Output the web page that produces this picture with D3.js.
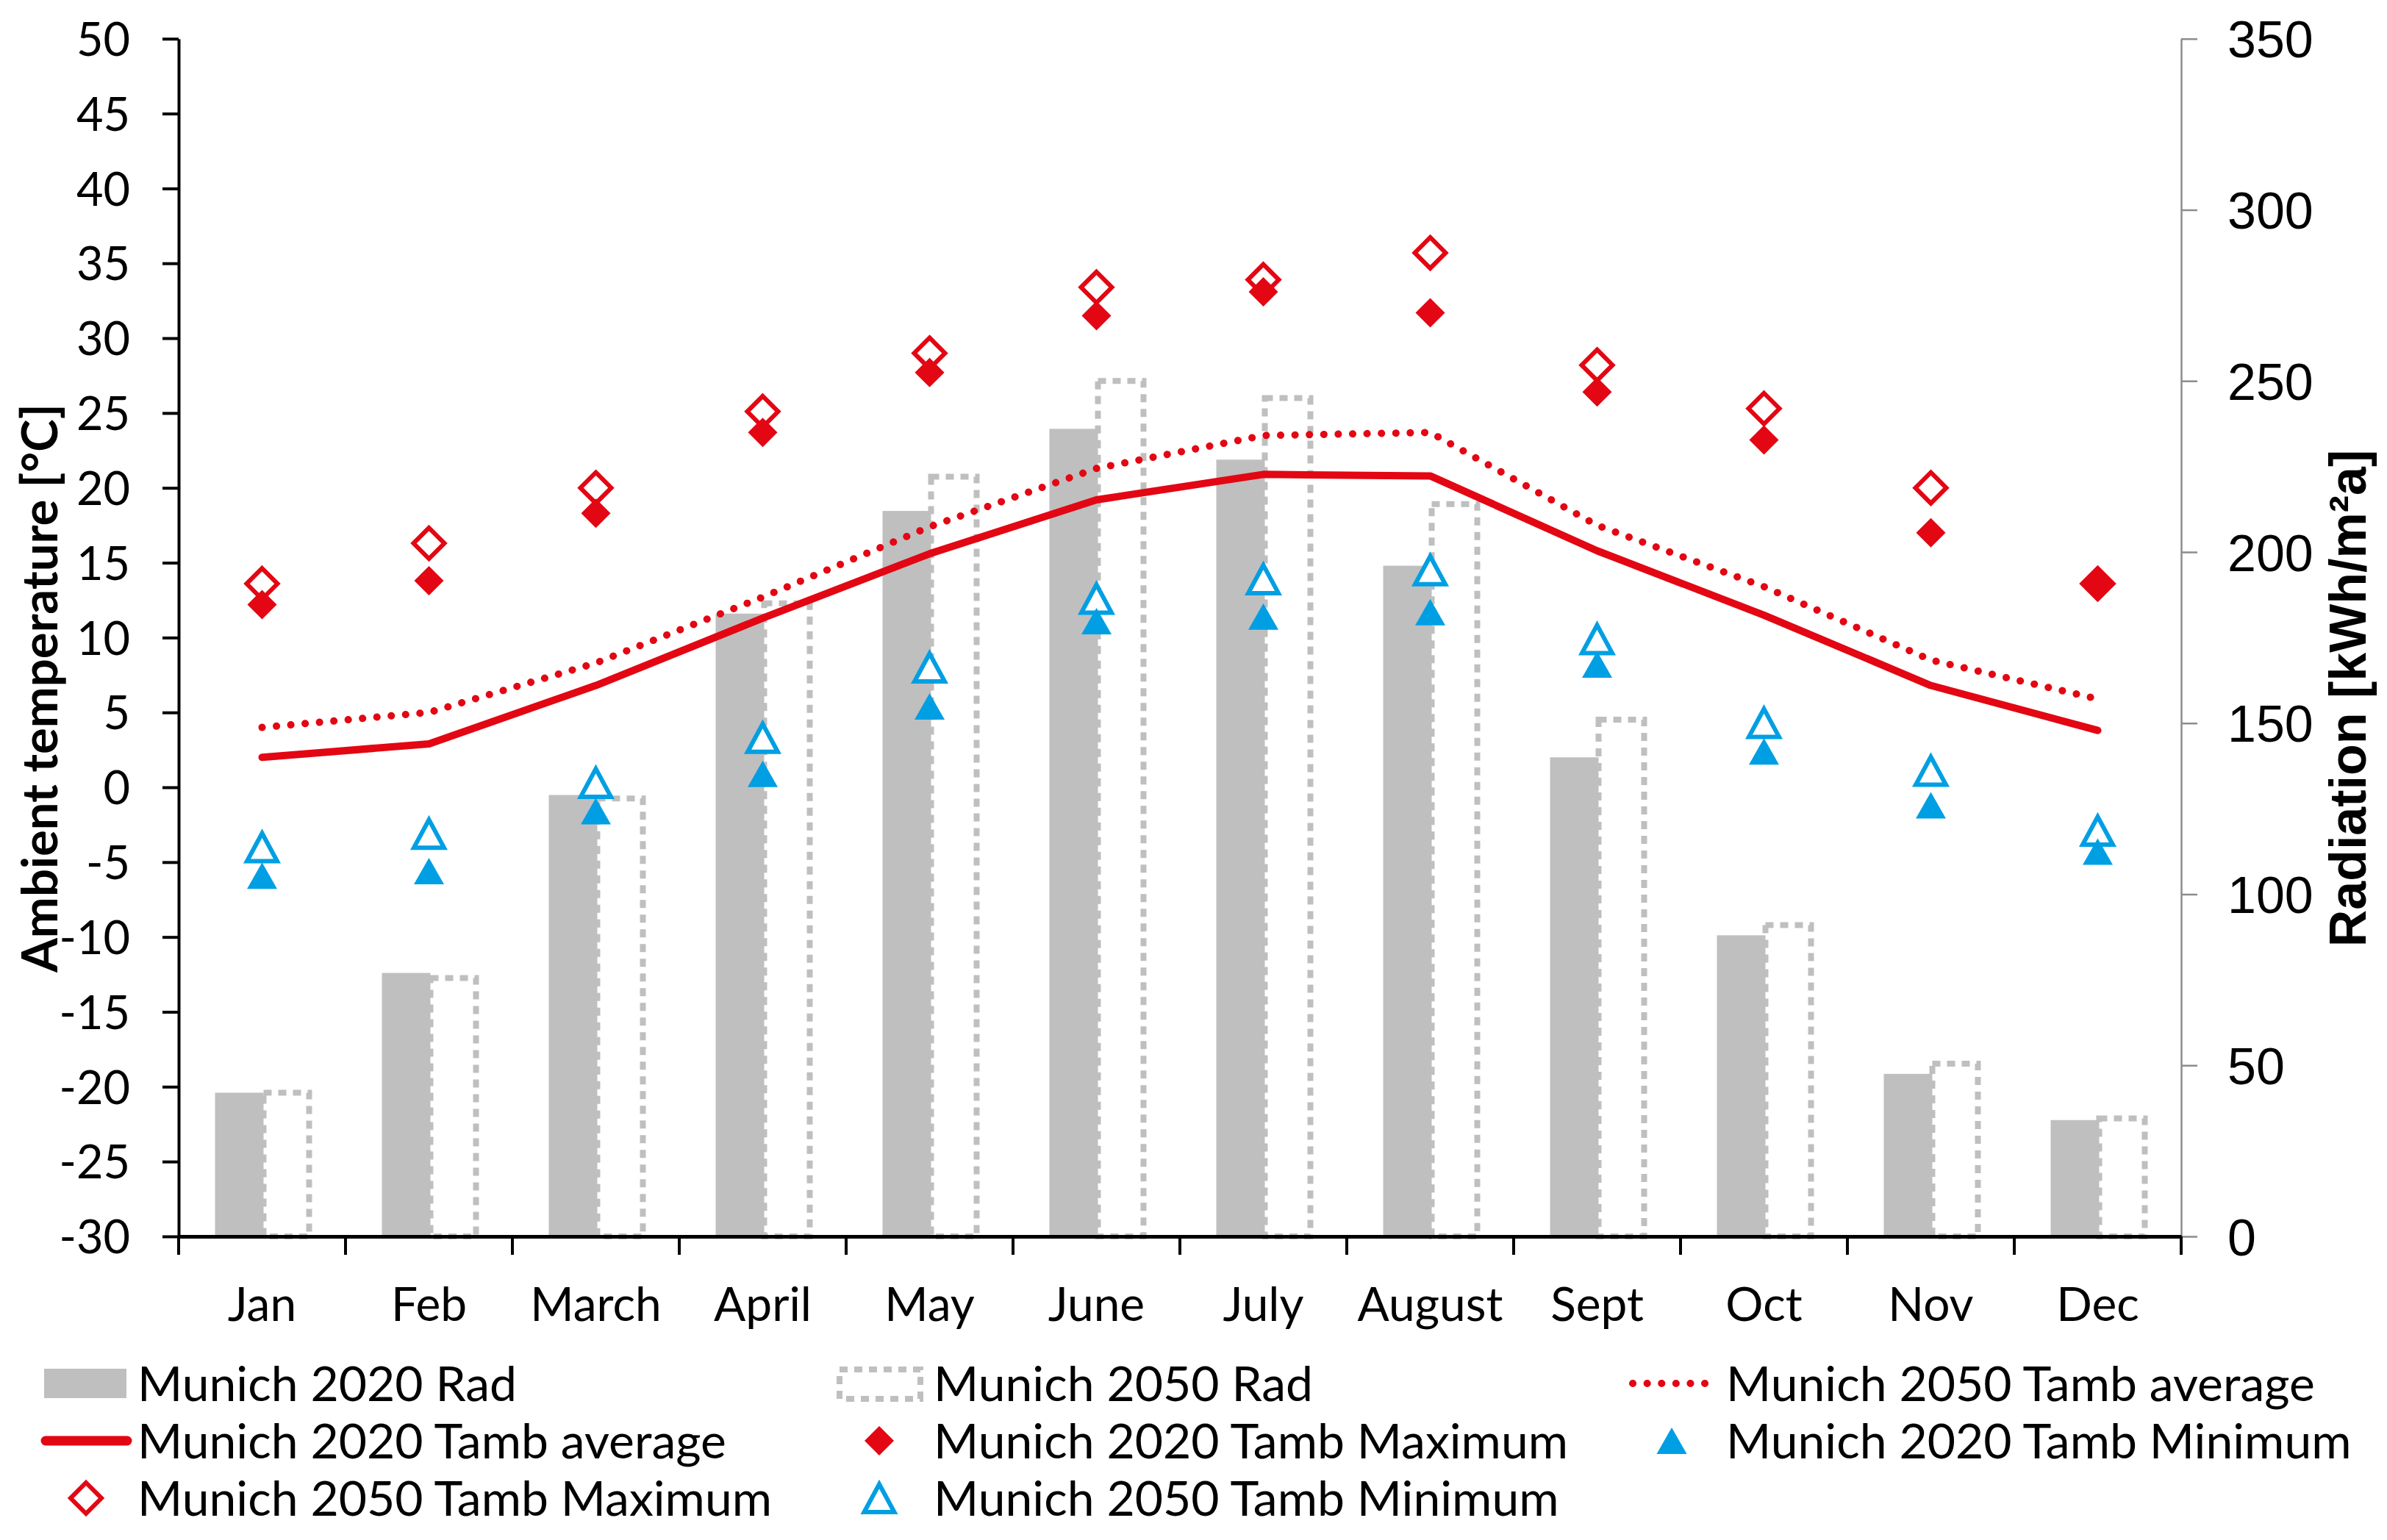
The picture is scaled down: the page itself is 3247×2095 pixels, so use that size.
<!DOCTYPE html>
<html lang="en">
<head>
  <meta charset="UTF-8">
  <title>Munich 2020 / 2050 temperature and radiation</title>
  <script src="https://d3js.org/d3.v7.min.js"></script>
  <style>
    body { margin: 0; background: #fff; }
    svg { display: block; }
    .lbl { font-family: Lato, "Open Sans", sans-serif; fill: #000; }
  </style>
</head>
<body>
  <svg width="3247" height="2095"></svg>

  <script>
    // Data
    const months = ["Jan", "Feb", "March", "April", "May", "June", "July", "August", "Sept", "Oct", "Nov", "Dec"];
    const rad2020 = [42, 77, 129, 182, 212, 236, 227, 196, 140, 88, 47.5, 34];
    const rad2050 = [42, 75.5, 128, 185, 222, 250, 245, 214, 151, 91, 50.5, 34.5];
    const tavg2020 = [2.0, 2.9, 6.8, 11.3, 15.6, 19.2, 20.9, 20.8, 15.8, 11.5, 6.8, 3.8];
    const tavg2050 = [4.0, 5.0, 8.3, 12.7, 17.4, 21.3, 23.5, 23.7, 17.5, 13.4, 8.5, 5.9];
    const tmax2020 = [12.2, 13.8, 18.3, 23.7, 27.7, 31.5, 33.1, 31.7, 26.4, 23.2, 17.0, 13.5];
    const tmax2050 = [13.6, 16.3, 20.0, 25.1, 29.0, 33.4, 33.9, 35.7, 28.2, 25.3, 20.0, 13.6];
    const tmin2020 = [-5.9, -5.6, -1.6, 0.9, 5.4, 11.1, 11.4, 11.7, 8.2, 2.4, -1.2, -4.3];
    const tmin2050 = [-4.0, -3.1, 0.3, 3.3, 8.0, 12.6, 13.9, 14.5, 9.9, 4.3, 1.1, -2.9];
    const tempTicks = d3.range(-30, 51, 5);
    const radTicks = d3.range(0, 351, 50);

    const RED = "#e30613", BLUE = "#009fe3", GREY = "#bfbfbf";

    const svg = d3.select("svg");
    const plotLeft = 243, plotRight = 2967, plotTop = 52.7, plotBottom = 1682;

    const x = d3.scaleBand().domain(months).range([plotLeft, plotRight]).padding(0);
    const yT = d3.scaleLinear().domain([-30, 50]).range([plotBottom, plotTop]);
    const yR = d3.scaleLinear().domain([0, 350]).range([plotBottom, plotTop]);
    const cx = m => x(m) + x.bandwidth() / 2;

    // custom marker shapes (bounding box centred)
    const diamondPath = r => `M0,${-r}L${r},0L0,${r}L${-r},0Z`;
    const trianglePath = (w, h) => `M0,${-h / 2}L${w / 2},${h / 2}L${-w / 2},${h / 2}Z`;

    // bars: 2020 solid, 2050 dashed outline
    svg.append("g").selectAll("rect")
      .data(months)
      .join("rect")
      .attr("x", m => cx(m) - 64)
      .attr("width", 66)
      .attr("y", (m, i) => yR(rad2020[i]))
      .attr("height", (m, i) => plotBottom - yR(rad2020[i]))
      .attr("fill", GREY);

    svg.append("g").selectAll("rect")
      .data(months)
      .join("rect")
      .attr("x", m => cx(m) + 2)
      .attr("width", 62)
      .attr("y", (m, i) => yR(rad2050[i]))
      .attr("height", (m, i) => plotBottom - yR(rad2050[i]))
      .attr("fill", "none")
      .attr("stroke", GREY)
      .attr("stroke-width", 8)
      .attr("stroke-dasharray", "11,9");

    // axes
    const axL = svg.append("g")
      .attr("transform", `translate(${plotLeft},0)`)
      .call(d3.axisLeft(yT).tickValues(tempTicks).tickFormat(d => String(d))
        .tickSize(22).tickPadding(44).tickSizeOuter(0));
    axL.select(".domain").attr("stroke", "#000").attr("stroke-width", 4);
    axL.selectAll(".tick line").attr("stroke", "#000").attr("stroke-width", 4);
    axL.selectAll(".tick text")
      .attr("class", "lbl")
      .attr("font-size", 63)
      .attr("dy", "0.36em");

    const axR = svg.append("g")
      .attr("transform", `translate(${plotRight},0)`)
      .call(d3.axisRight(yR).tickValues(radTicks).tickSize(22).tickPadding(41).tickSizeOuter(0));
    axR.select(".domain").attr("stroke", "#8c8c8c").attr("stroke-width", 2.5);
    axR.selectAll(".tick line").attr("stroke", "#8c8c8c").attr("stroke-width", 2.5);
    axR.selectAll(".tick text")
      .attr("font-family", "'Liberation Sans', Arial, sans-serif")
      .attr("font-size", 70)
      .attr("fill", "#000")
      .attr("dy", "0.36em");

    const axB = svg.append("g")
      .attr("transform", `translate(0,${plotBottom})`)
      .call(d3.axisBottom(x).tickSize(0).tickPadding(0));
    axB.select(".domain").attr("stroke", "#000").attr("stroke-width", 5);
    axB.selectAll(".tick text").remove();
    // boundary ticks between categories
    axB.selectAll(".sep")
      .data(d3.range(months.length + 1))
      .join("line")
      .attr("x1", i => plotLeft + i * x.bandwidth())
      .attr("x2", i => plotLeft + i * x.bandwidth())
      .attr("y1", 0)
      .attr("y2", 25)
      .attr("stroke", "#000")
      .attr("stroke-width", 4);
    svg.append("g").selectAll("text")
      .data(months)
      .join("text")
      .attr("class", "lbl")
      .attr("x", cx)
      .attr("y", 1797)
      .attr("text-anchor", "middle")
      .attr("font-size", 64)
      .text(d => d);

    // axis titles
    svg.append("text")
      .attr("class", "lbl")
      .attr("transform", "translate(78,936) rotate(-90)")
      .attr("text-anchor", "middle")
      .attr("font-size", 67)
      .attr("font-weight", "bold")
      .text("Ambient temperature [°C]");

    svg.append("text")
      .attr("transform", "translate(3218,950) rotate(-90)")
      .attr("text-anchor", "middle")
      .attr("font-family", "'Liberation Sans', Arial, sans-serif")
      .attr("font-size", 70)
      .attr("font-weight", "bold")
      .attr("fill", "#000")
      .text("Radiation [kWh/m²a]");

    // average lines
    const line = arr => d3.line().x((m, i) => cx(m)).y((m, i) => yT(arr[i]))(months);
    svg.append("path")
      .attr("d", line(tavg2050))
      .attr("fill", "none")
      .attr("stroke", RED)
      .attr("stroke-width", 10)
      .attr("stroke-linecap", "round")
      .attr("stroke-dasharray", "0.1,19.5");
    svg.append("path")
      .attr("d", line(tavg2020))
      .attr("fill", "none")
      .attr("stroke", RED)
      .attr("stroke-width", 10)
      .attr("stroke-linecap", "round")
      .attr("stroke-linejoin", "round");

    // markers
    const markers = (arr, path, opts) => svg.append("g").selectAll("path")
      .data(months)
      .join("path")
      .attr("transform", (m, i) => `translate(${cx(m)},${yT(arr[i])})`)
      .attr("d", path)
      .attr("fill", opts.fill)
      .attr("stroke", opts.stroke || "none")
      .attr("stroke-width", opts.sw || 0)
      .attr("stroke-linejoin", "miter");

    markers(tmax2050, diamondPath(21), { fill: "#fff", stroke: RED, sw: 6 });
    markers(tmin2050, trianglePath(41, 38), { fill: "#fff", stroke: BLUE, sw: 6 });
    markers(tmax2020, diamondPath(20), { fill: RED });
    markers(tmin2020, trianglePath(41, 36), { fill: BLUE });

    // legend
    const legend = svg.append("g");
    const rows = [1882, 1960, 2038];
    const cols = [60, 1139, 2217];
    const textX = [187, 1270, 2348];
    const items = [
      { label: "Munich 2020 Rad", type: "bar", col: 0, row: 0 },
      { label: "Munich 2050 Rad", type: "dbar", col: 1, row: 0 },
      { label: "Munich 2050 Tamb average", type: "dot", col: 2, row: 0 },
      { label: "Munich 2020 Tamb average", type: "line", col: 0, row: 1 },
      { label: "Munich 2020 Tamb Maximum", type: "fdia", col: 1, row: 1 },
      { label: "Munich 2020 Tamb Minimum", type: "ftri", col: 2, row: 1 },
      { label: "Munich 2050 Tamb Maximum", type: "odia", col: 0, row: 2 },
      { label: "Munich 2050 Tamb Minimum", type: "otri", col: 1, row: 2 }
    ];
    items.forEach(it => {
      const y0 = rows[it.row], x0 = cols[it.col], mid = x0 + 57;
      const g = legend.append("g");
      if (it.type === "bar") {
        g.append("rect").attr("x", x0).attr("y", y0 - 20).attr("width", 112).attr("height", 40).attr("fill", GREY);
      } else if (it.type === "dbar") {
        g.append("rect").attr("x", x0 + 3).attr("y", y0 - 19).attr("width", 110).attr("height", 40)
          .attr("fill", "none").attr("stroke", GREY).attr("stroke-width", 8).attr("stroke-dasharray", "11,9");
      } else if (it.type === "dot") {
        g.append("line").attr("x1", x0 + 4).attr("x2", x0 + 108).attr("y1", y0).attr("y2", y0)
          .attr("stroke", RED).attr("stroke-width", 10).attr("stroke-linecap", "round").attr("stroke-dasharray", "0.1,19.5");
      } else if (it.type === "line") {
        g.append("line").attr("x1", x0 + 2).attr("x2", x0 + 113).attr("y1", y0).attr("y2", y0)
          .attr("stroke", RED).attr("stroke-width", 13).attr("stroke-linecap", "round");
      } else if (it.type === "fdia") {
        g.append("path").attr("transform", `translate(${mid},${y0})`).attr("d", diamondPath(20)).attr("fill", RED);
      } else if (it.type === "ftri") {
        g.append("path").attr("transform", `translate(${mid},${y0})`).attr("d", trianglePath(41, 36)).attr("fill", BLUE);
      } else if (it.type === "odia") {
        g.append("path").attr("transform", `translate(${mid},${y0})`).attr("d", diamondPath(21))
          .attr("fill", "#fff").attr("stroke", RED).attr("stroke-width", 6);
      } else if (it.type === "otri") {
        g.append("path").attr("transform", `translate(${mid},${y0})`).attr("d", trianglePath(41, 38))
          .attr("fill", "#fff").attr("stroke", BLUE).attr("stroke-width", 6);
      }
      g.append("text")
        .attr("class", "lbl")
        .attr("x", textX[it.col])
        .attr("y", y0)
        .attr("dy", "0.36em")
        .attr("font-size", 66)
        .text(it.label);
    });
  </script>
</body>
</html>
